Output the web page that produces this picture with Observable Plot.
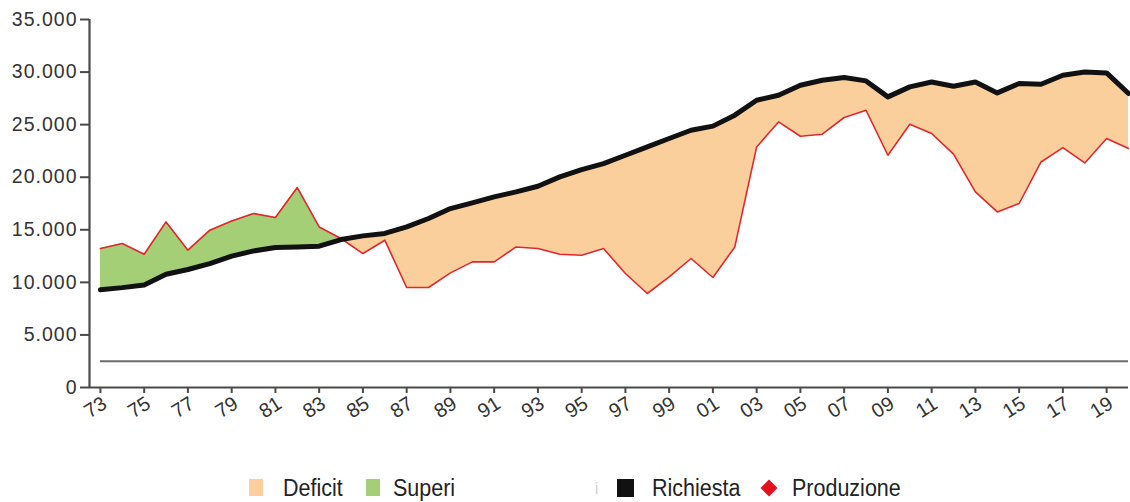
<!DOCTYPE html>
<html>
<head>
<meta charset="utf-8">
<script src="https://cdn.jsdelivr.net/npm/d3@7"></script>
<script src="https://cdn.jsdelivr.net/npm/@observablehq/plot@0.6"></script>
<style>
  html, body { margin: 0; padding: 0; background: #fff; }
  #wrap { position: relative; width: 1130px; height: 502px; font-family: "Liberation Sans", Arial, sans-serif; }
  #wrap svg { position: absolute; left: 0; top: 0; }
  g[aria-label="y-axis tick label"] text { letter-spacing: 1px; }
  .leg { position: absolute; top: 476px; height: 24px; line-height: 24px; font-size: 21.5px; color: #222; transform: scaleY(1.15); transform-origin: 50% 50%; }
  .sw { position: absolute; }
</style>
</head>
<body>
<div id="wrap"></div>
<script>
// ---- Data ----
const years = [1973,1974,1975,1976,1977,1978,1979,1980,1981,1982,1983,1984,1985,1986,1987,1988,1989,1990,1991,1992,1993,1994,1995,1996,1997,1998,1999,2000,2001,2002,2003,2004,2005,2006,2007,2008,2009,2010,2011,2012,2013,2014,2015,2016,2017,2018,2019,2020];
const richiesta = [9300,9500,9750,10770,11220,11790,12490,12990,13310,13370,13440,14070,14420,14650,15270,16070,17020,17560,18130,18600,19140,20030,20730,21300,22090,22880,23680,24470,24860,25900,27320,27800,28750,29220,29480,29160,27640,28590,29060,28650,29060,28020,28910,28840,29700,30010,29920,27960];
const produzione = [13220,13690,12680,15750,13060,14960,15840,16550,16170,19020,15270,14170,12740,14010,9510,9510,10900,11950,11950,13370,13220,12680,12580,13220,10840,8940,10520,12270,10460,13370,22880,25260,23900,24090,25680,26370,22090,25040,24160,22190,18600,16700,17500,21450,22820,21360,23680,22730];
const yTicks = [0,5000,10000,15000,20000,25000,30000,35000];
const xTickYears = [1973,1975,1977,1979,1981,1983,1985,1987,1989,1991,1993,1995,1997,1999,2001,2003,2005,2007,2009,2011,2013,2015,2017,2019];
const refLineValue = [2500];
const legendItems = ["Deficit", "Superi", "Richiesta", "Produzione"];

const rows = years.map((year, i) => ({year, dem: richiesta[i], prod: produzione[i]}));
const fmt = d => d3.format(",")(d).replace(/,/g, ".");

const chart = Plot.plot({
  width: 1130,
  height: 440,
  marginLeft: 89,
  marginRight: 2,
  marginTop: 19,
  marginBottom: 53,
  style: {fontFamily: "'Liberation Sans', Arial, sans-serif", color: "#333", background: "transparent"},
  x: {domain: [1972.5, 2020], axis: null},
  y: {domain: [0, 35000], axis: null},
  marks: [
    // Deficit (demand above production)
    Plot.areaY(rows, {x: "year", y1: d => Math.min(d.prod, d.dem), y2: "dem", fill: "#FBCF9B", curve: "linear"}),
    // Superi (production above demand)
    Plot.areaY(rows, {x: "year", y1: "dem", y2: d => Math.max(d.prod, d.dem), fill: "#A4CF76", curve: "linear"}),
    Plot.lineY(rows, {x: "year", y: "prod", stroke: "#E3262B", strokeWidth: 1.6}),
    Plot.lineY(rows, {x: "year", y: "dem", stroke: "#111", strokeWidth: 5, strokeLinejoin: "round"}),
    Plot.ruleY(refLineValue, {x1: years[0], x2: years[years.length - 1], stroke: "#6e6e6e", strokeWidth: 2}),
    // axes
    Plot.ruleX([1972.5], {y1: 0, y2: 35000, stroke: "#4a4a4a", strokeWidth: 2.2}),
    Plot.ruleY([0], {x1: 1972.5, x2: 2020, stroke: "#4a4a4a", strokeWidth: 2.2}),
    Plot.axisY(yTicks, {tickSize: 9, tickPadding: 3, tickFormat: fmt, fontSize: 19.5, stroke: "#4a4a4a", strokeWidth: 2, fill: "#333", label: null}),
    Plot.axisX(xTickYears, {tickSize: 6, tickFormat: () => "", stroke: "#4a4a4a", strokeWidth: 2, label: null}),
    Plot.text(xTickYears, {x: d => d, y: 0, text: d => String(d % 100).padStart(2, "0"), rotate: -32, dy: 20, dx: -5, fontSize: 20, fill: "#333"})
  ]
});
const wrap = document.getElementById("wrap");
wrap.appendChild(chart);

// Legend
const legendHtml = `
  <div class="sw" style="left:249px;top:479px;width:14px;height:17px;background:#FBCF9B"></div>
  <div class="leg" style="left:283px">${legendItems[0]}</div>
  <div class="sw" style="left:366px;top:479px;width:14px;height:17px;background:#A4CF76"></div>
  <div class="leg" style="left:393px">${legendItems[1]}</div>
  <div class="leg" style="left:595px;color:#ccc;font-size:14px">i</div>
  <div class="sw" style="left:617px;top:479px;width:17px;height:18px;background:#111"></div>
  <div class="leg" style="left:652px">${legendItems[2]}</div>
  <div class="sw" style="left:763px;top:482px;width:12px;height:12px;background:#E3101E;transform:rotate(45deg)"></div>
  <div class="leg" style="left:792px">${legendItems[3]}</div>
`;
wrap.insertAdjacentHTML("beforeend", legendHtml);
</script>
</body>
</html>
